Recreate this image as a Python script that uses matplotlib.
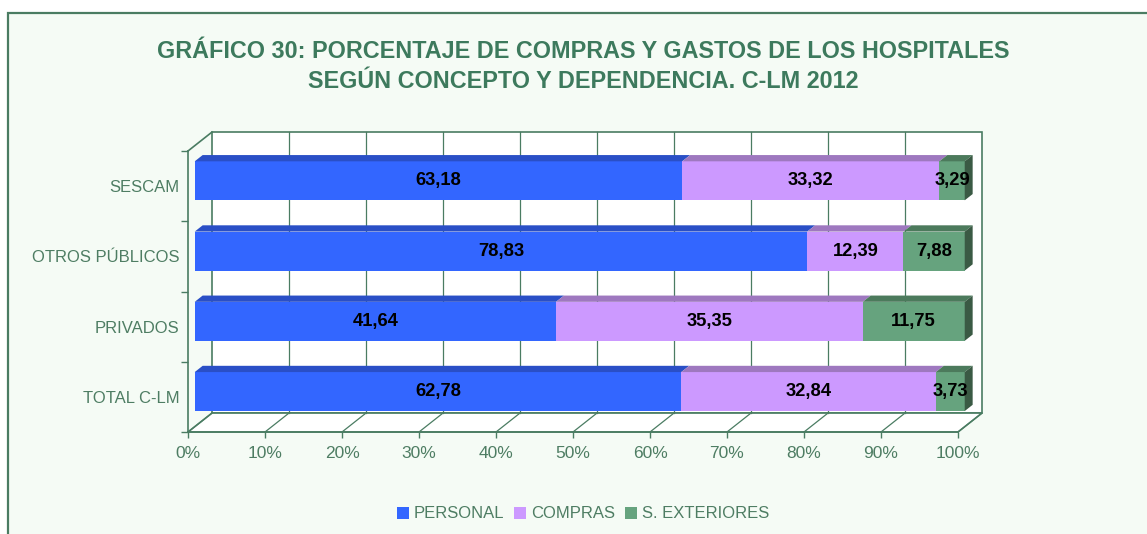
import matplotlib
matplotlib.use('Agg')
import matplotlib.pyplot as plt
from matplotlib.patches import Rectangle, Polygon, Patch
import numpy as np

plt.rcParams['font.family'] = ['Liberation Sans', 'DejaVu Sans']

# data (top to bottom as in the chart)
categories = ['SESCAM', 'OTROS PÚBLICOS', 'PRIVADOS', 'TOTAL C-LM']
personal = [63.18, 78.83, 41.64, 62.78]
compras = [33.32, 12.39, 35.35, 32.84]
exteriores = [3.29, 7.88, 11.75, 3.73]
series_names = ['PERSONAL', 'COMPRAS', 'S. EXTERIORES']
xtick_labels = ['0%', '10%', '20%', '30%', '40%', '50%', '60%', '70%', '80%', '90%', '100%']

green = '#4A7C62'
front_cols = ['#3366FF', '#CC99FF', '#66A37E']
top_cols = ['#2A4FC6', '#9E78BF', '#4C7A5C']
side_col = '#3A5A44'

fig = plt.figure(figsize=(11.47, 5.34), dpi=100)
fig.patch.set_facecolor('white')
fig.patches.append(Rectangle((8/1147, -0.05), 1.1, 1 - 13/534 + 0.05, transform=fig.transFigure,
                             facecolor='#F5FBF5', edgecolor=green, lw=1.6, zorder=-10))

fig.text(583/1147, 1 - 51/534, 'GRÁFICO 30: PORCENTAJE DE COMPRAS Y GASTOS DE LOS HOSPITALES',
         ha='center', va='center', fontsize=16.8, fontweight='bold', color='#3D7A5D')
fig.text(583/1147, 1 - 81/534, 'SEGÚN CONCEPTO Y DEPENDENCIA. C-LM 2012',
         ha='center', va='center', fontsize=16.8, fontweight='bold', color='#3D7A5D')

ax = fig.add_axes([188/1147, 102/534, 770/1147, 281/534])
ax.set_facecolor('none')
ax.set_xlim(0, 100)
ax.set_ylim(-0.5, 3.5)

# depth offsets of the 3d box (data units)
dx, dy = 3.12, 0.27
f0, f1 = 0.28, 0.61
bh = 0.555

# back wall + gridlines
ax.add_patch(Rectangle((dx, -0.5 + dy), 100, 4, facecolor='white', edgecolor=green, lw=1.2,
                       clip_on=False, zorder=1))
for x in range(10, 100, 10):
    ax.plot([x + dx, x + dx], [-0.5 + dy, 3.5 + dy], color=green, lw=0.9, clip_on=False, zorder=1.5)
# floor
ax.add_patch(Polygon([(0, -0.5), (100, -0.5), (100 + dx, -0.5 + dy), (dx, -0.5 + dy)], closed=True,
                     facecolor='white', edgecolor=green, lw=1.2, clip_on=False, zorder=1))
for x in range(0, 101, 10):
    ax.plot([x, x + dx], [-0.5, -0.5 + dy], color=green, lw=0.9, clip_on=False, zorder=1.5)
ax.plot([0, dx], [3.5, 3.5 + dy], color=green, lw=1.2, clip_on=False, zorder=1.5)

# bars (100% stacked)
vals = np.array([personal, compras, exteriores])
pct = vals / vals.sum(axis=0) * 100
ypos = np.arange(len(categories))[::-1]
for i, yc in enumerate(ypos):
    left = 0
    yb = yc - bh / 2
    yt = yc + bh / 2
    for k in range(3):
        w = pct[k, i]
        x0 = left + f0 * dx
        ax.add_patch(Rectangle((x0, yb + f0 * dy), w, bh, facecolor=front_cols[k], lw=0,
                               clip_on=False, zorder=3))
        ax.add_patch(Polygon([(left + f0 * dx, yt + f0 * dy), (left + w + f0 * dx, yt + f0 * dy),
                              (left + w + f1 * dx, yt + f1 * dy), (left + f1 * dx, yt + f1 * dy)],
                             closed=True, facecolor=top_cols[k], lw=0, clip_on=False, zorder=3))
        ax.text(x0 + w / 2, yc + f0 * dy, f'{vals[k, i]:.2f}'.replace('.', ','), ha='center', va='center',
                fontsize=13.2, fontweight='bold', color='black', zorder=5)
        left += w
    ax.add_patch(Polygon([(left + f0 * dx, yb + f0 * dy), (left + f0 * dx, yt + f0 * dy),
                          (left + f1 * dx, yt + f1 * dy), (left + f1 * dx, yb + f1 * dy)],
                         closed=True, facecolor=side_col, lw=0, clip_on=False, zorder=3))

# axes styling
for s in ['top', 'right']:
    ax.spines[s].set_visible(False)
for s in ['left', 'bottom']:
    ax.spines[s].set_color(green)
    ax.spines[s].set_linewidth(1.2)
    ax.spines[s].set_zorder(4)
ax.set_xticks(range(0, 101, 10))
ax.set_xticklabels(xtick_labels)
ax.set_yticks(np.arange(-0.5, 3.6, 1))
ax.set_yticklabels([])
ax.set_yticks(ypos, minor=True)
ax.set_yticklabels(categories, minor=True)
ax.tick_params(axis='x', colors=green, labelsize=12.5, length=4, width=1, pad=6, labelcolor='#4E7D63')
ax.tick_params(axis='y', which='major', colors=green, length=5, width=1)
ax.tick_params(axis='y', which='minor', length=0, pad=6, labelsize=12, labelcolor='#4E7D63')

handles = [Patch(facecolor=c, edgecolor='none') for c in front_cols]
fig.legend(handles, series_names, loc='center', bbox_to_anchor=(583/1147, 20/534), ncol=3,
           frameon=False, fontsize=12, handlelength=0.7, handleheight=0.7, handletextpad=0.3,
           columnspacing=0.6, labelcolor='#4E7D63')

fig.savefig('out.png', dpi=100, facecolor=fig.get_facecolor())
